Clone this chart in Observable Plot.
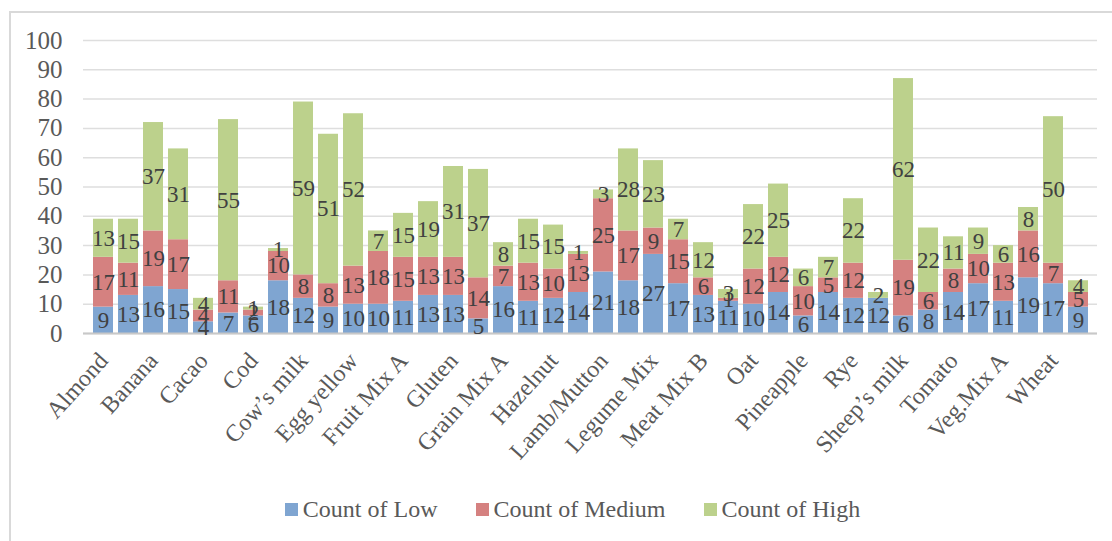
<!DOCTYPE html>
<html>
<head>
<meta charset="utf-8">
<script src="https://cdn.jsdelivr.net/npm/d3@7"></script>
<script src="https://cdn.jsdelivr.net/npm/@observablehq/plot@0.6"></script>
<style>
  body { margin: 0; background: #fff; }
  #wrap { position: relative; width: 1112px; height: 541px; overflow: hidden; font-family: "Liberation Serif", serif; }
  #frame { position: absolute; left: 9px; top: 11px; width: 1200px; height: 600px;
           border-left: 2px solid #d9d9d9; border-top: 2px solid #d9d9d9; }
  #chart { position: absolute; left: 0; top: 0; }
  #legend { position: absolute; left: 0; top: 496px; width: 1145px; display: flex; justify-content: center;
            align-items: center; font-size: 24px; color: #595959; }
  .item { display: flex; align-items: center; margin: 0 19px; }
  .sw { width: 13px; height: 13px; margin-right: 5px; }
</style>
</head>
<body>
<div id="wrap">
  <div id="frame"></div>
  <div id="chart"></div>
  <div id="legend"></div>
</div>
<script>
// Every other category carries a visible axis label
const tickLabels = ["Almond", "Banana", "Cacao", "Cod", "Cow’s milk", "Egg yellow", "Fruit Mix A",
  "Gluten", "Grain Mix A", "Hazelnut", "Lamb/Mutton", "Legume Mix", "Meat Mix B", "Oat",
  "Pineapple", "Rye", "Sheep’s milk", "Tomato", "Veg.Mix A", "Wheat"];

// Counts per category (40 bars)
const low    = [9, 13, 16, 15, 4, 7, 6, 18, 12, 9, 10, 10, 11, 13, 13, 5, 16, 11, 12, 14,
                21, 18, 27, 17, 13, 11, 10, 14, 6, 14, 12, 12, 6, 8, 14, 17, 11, 19, 17, 9];
const medium = [17, 11, 19, 17, 4, 11, 2, 10, 8, 8, 13, 18, 15, 13, 13, 14, 7, 13, 10, 13,
                25, 17, 9, 15, 6, 1, 12, 12, 10, 5, 12, 0, 19, 6, 8, 10, 13, 16, 7, 5];
const high   = [13, 15, 37, 31, 4, 55, 1, 1, 59, 51, 52, 7, 15, 19, 31, 37, 8, 15, 15, 1,
                3, 28, 23, 7, 12, 3, 22, 25, 6, 7, 22, 2, 62, 22, 11, 9, 6, 8, 50, 4];

const levels = ["Count of Low", "Count of Medium", "Count of High"];
const colors = ["#7fa5d1", "#d58180", "#bcd18c"];
const yTicks = [0, 10, 20, 30, 40, 50, 60, 70, 80, 90, 100];

const series = [low, medium, high];
const rows = [];
low.forEach((_, i) => levels.forEach((level, k) => rows.push({idx: i, level, value: series[k][i]})));

const chart = Plot.plot({
  width: 1112,
  height: 480,
  marginLeft: 83,
  marginRight: 15,
  marginTop: 40,
  marginBottom: 147,
  style: {fontFamily: "Liberation Serif, serif", background: "transparent"},
  x: {type: "band", domain: d3.range(low.length), paddingInner: 0.2, paddingOuter: 0.25, label: null},
  y: {domain: [0, 100], label: null},
  color: {domain: levels, range: colors},
  marks: [
    Plot.gridY(yTicks, {stroke: "#dedede", strokeOpacity: 1, strokeWidth: 1.5}),
    Plot.barY(rows, Plot.stackY({x: "idx", y: "value", fill: "level", order: levels})),
    Plot.ruleY([0], {stroke: "#c8c8c8", strokeWidth: 2}),
    Plot.text(rows, Plot.stackY({
      x: "idx", y: "value", z: "level", order: levels,
      text: d => d.value > 0 ? String(d.value) : "",
      fill: "#404040", fontSize: 23
    })),
    Plot.axisY(yTicks, {tickSize: 0, tickPadding: 21, fontSize: 25, color: "#595959", label: null}),
    Plot.axisX({
      tickSize: 0, tickPadding: 23, tickRotate: -48, fontSize: 24, color: "#595959", label: null,
      tickFormat: i => i % 2 === 0 ? tickLabels[i / 2] : ""
    })
  ]
});
document.getElementById("chart").append(chart);

// Legend below the plot
const legend = document.getElementById("legend");
levels.forEach((name, k) => {
  const item = document.createElement("div");
  item.className = "item";
  const sw = document.createElement("span");
  sw.className = "sw";
  sw.style.background = colors[k];
  const label = document.createElement("span");
  label.textContent = name;
  item.append(sw, label);
  legend.append(item);
});
</script>
</body>
</html>
